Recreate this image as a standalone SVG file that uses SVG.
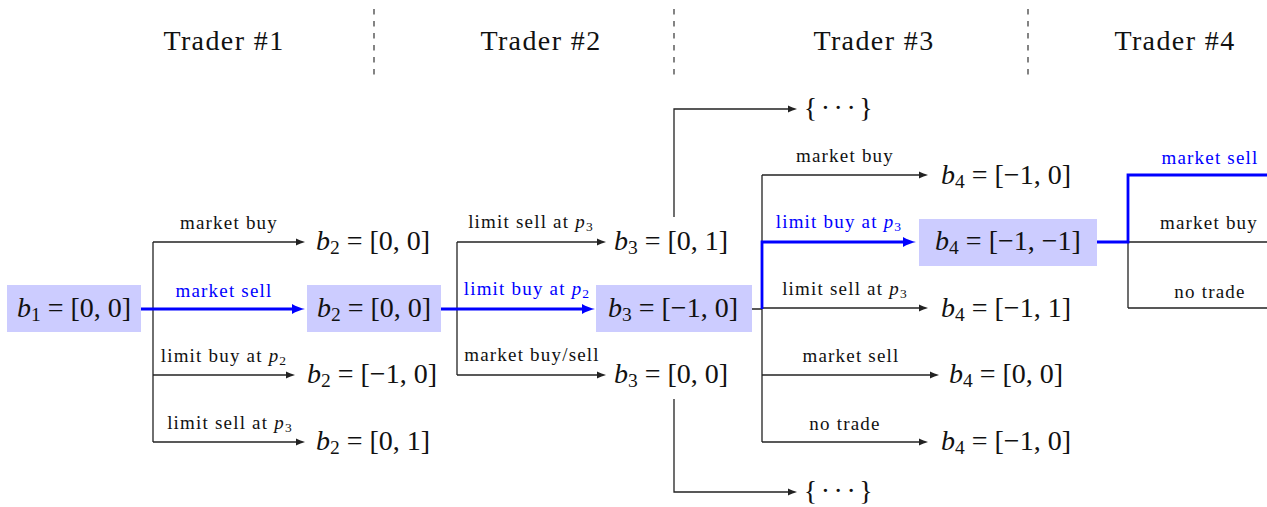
<svg xmlns="http://www.w3.org/2000/svg" width="1267" height="507" viewBox="0 0 1267 507">
  <style>
    text { font-family: "Liberation Serif", "Times New Roman", serif; fill: #111; }
    .title { font-size: 28px; letter-spacing: 1.4px; text-anchor: middle; }
    .math { font-size: 28px; text-anchor: middle; }
    .lbl { font-size: 19px; letter-spacing: 1.2px; text-anchor: middle; }
    .lbl.sel { fill: #0000ff; }
    .i { font-style: italic; }
    .sub { font-size: 19.5px; }
    .lsub { font-size: 13.5px; }
    .hl { fill: #ccccff; }
    .divider { stroke: #333; stroke-width: 1.2; stroke-dasharray: 5.5 6.5; }
    .edge { fill: none; stroke: #222; stroke-width: 1.3; }
    .arrow { marker-end: url(#ah); }
    .path { fill: none; stroke: #0000ff; stroke-width: 2.8; }
    .parrow { marker-end: url(#ahb); }
  </style>
  <defs>
    <marker id="ah" markerUnits="userSpaceOnUse" viewBox="0 0 10 10" markerWidth="10" markerHeight="10" refX="1" refY="5" orient="auto">
      <path d="M9,5 C6.5,4.3 2.5,3 0,1.6 L0,8.4 C2.5,7 6.5,5.7 9,5Z" fill="#222"/>
    </marker>
    <marker id="ahb" markerUnits="userSpaceOnUse" viewBox="0 0 14 12" markerWidth="14" markerHeight="12" refX="1" refY="6" orient="auto">
      <path d="M13,6 C9,5 4,3.4 0,1 L0,11 C4,8.6 9,7 13,6Z" fill="#0000ff"/>
    </marker>
  </defs>

  <!-- column headings and separators -->
  <g id="headers">
    <text class="title" x="224" y="50">Trader #1</text>
    <text class="title" x="541" y="50">Trader #2</text>
    <text class="title" x="874" y="50">Trader #3</text>
    <text class="title" x="1175" y="50">Trader #4</text>
  </g>
  <g id="dividers">
    <line class="divider" x1="374" y1="9" x2="374" y2="75"/>
    <line class="divider" x1="674" y1="9" x2="674" y2="75"/>
    <line class="divider" x1="1028" y1="9" x2="1028" y2="75"/>
  </g>

  <!-- connectors: black tree edges first, highlighted path on top -->
  <g id="connectors">
    <!-- trader 1 -->
    <path class="edge" d="M153,242 V442"/>
    <path class="edge arrow" d="M153,242 H297"/>
    <path class="edge arrow" d="M153,375 H287"/>
    <path class="edge arrow" d="M153,442 H297"/>
    <!-- trader 2 -->
    <path class="edge" d="M457,242 V375"/>
    <path class="edge arrow" d="M457,242 H598"/>
    <path class="edge arrow" d="M457,375 H598"/>
    <path class="edge arrow" d="M674,217 V109 H789"/>
    <path class="edge arrow" d="M674,399 V492 H789"/>
    <!-- trader 3 -->
    <path class="edge" d="M751,309 H762 M762,175 V442"/>
    <path class="edge arrow" d="M762,175 H920"/>
    <path class="edge arrow" d="M762,308 H920"/>
    <path class="edge arrow" d="M762,375 H931"/>
    <path class="edge arrow" d="M762,442 H920"/>
    <!-- trader 4 -->
    <path class="edge" d="M1128,242 V308 M1128,242 H1267 M1128,308 H1267"/>
    <!-- highlighted sequence -->
    <path class="path parrow" d="M141,309 H293"/>
    <path class="path parrow" d="M441,309 H583"/>
    <path class="path parrow" d="M762,309 V242 H904"/>
    <path class="path" d="M1097,242 H1128 V175 H1267"/>
  </g>

  <g id="edge-labels">
    <text class="lbl" x="229" y="229">market buy</text>
    <text class="lbl sel" x="224" y="297">market sell</text>
    <text class="lbl" x="224" y="362">limit buy at <tspan class="i">p</tspan><tspan class="lsub" dy="3">2</tspan></text>
    <text class="lbl" x="230" y="429">limit sell at <tspan class="i">p</tspan><tspan class="lsub" dy="3">3</tspan></text>

    <text class="lbl" x="531" y="228">limit sell at <tspan class="i">p</tspan><tspan class="lsub" dy="3">3</tspan></text>
    <text class="lbl sel" x="527" y="295">limit buy at <tspan class="i">p</tspan><tspan class="lsub" dy="3">2</tspan></text>
    <text class="lbl" x="532" y="361">market buy/sell</text>

    <text class="lbl" x="845" y="162">market buy</text>
    <text class="lbl sel" x="839" y="228">limit buy at <tspan class="i">p</tspan><tspan class="lsub" dy="3">3</tspan></text>
    <text class="lbl" x="845" y="295">limit sell at <tspan class="i">p</tspan><tspan class="lsub" dy="3">3</tspan></text>
    <text class="lbl" x="851" y="362">market sell</text>
    <text class="lbl" x="845" y="430">no trade</text>

    <text class="lbl sel" x="1210" y="164">market sell</text>
    <text class="lbl" x="1209" y="229">market buy</text>
    <text class="lbl" x="1210" y="298">no trade</text>
  </g>

  <!-- state nodes -->
  <g id="b1">
    <rect class="hl" x="7" y="285" width="134" height="47"/>
    <text class="math" x="74" y="317"><tspan class="i">b</tspan><tspan class="sub" dy="4">1</tspan><tspan dy="-4"> = [0, 0]</tspan></text>
  </g>

  <g id="b2-market-buy">
    <text class="math" x="373" y="250"><tspan class="i">b</tspan><tspan class="sub" dy="4">2</tspan><tspan dy="-4"> = [0, 0]</tspan></text>
  </g>
  <g id="b2-market-sell">
    <rect class="hl" x="307" y="285" width="134" height="47"/>
    <text class="math" x="374" y="317"><tspan class="i">b</tspan><tspan class="sub" dy="4">2</tspan><tspan dy="-4"> = [0, 0]</tspan></text>
  </g>
  <g id="b2-limit-buy">
    <text class="math" x="372" y="383"><tspan class="i">b</tspan><tspan class="sub" dy="4">2</tspan><tspan dy="-4"> = [−1, 0]</tspan></text>
  </g>
  <g id="b2-limit-sell">
    <text class="math" x="373" y="450"><tspan class="i">b</tspan><tspan class="sub" dy="4">2</tspan><tspan dy="-4"> = [0, 1]</tspan></text>
  </g>

  <g id="b3-limit-sell">
    <text class="math" x="671" y="250"><tspan class="i">b</tspan><tspan class="sub" dy="4">3</tspan><tspan dy="-4"> = [0, 1]</tspan></text>
  </g>
  <g id="b3-limit-buy">
    <rect class="hl" x="596" y="285" width="156" height="47"/>
    <text class="math" x="673" y="317"><tspan class="i">b</tspan><tspan class="sub" dy="4">3</tspan><tspan dy="-4"> = [−1, 0]</tspan></text>
  </g>
  <g id="b3-market">
    <text class="math" x="671" y="383"><tspan class="i">b</tspan><tspan class="sub" dy="4">3</tspan><tspan dy="-4"> = [0, 0]</tspan></text>
  </g>

  <g id="more-upper">
    <text class="math" x="840" y="117" style="letter-spacing:3.5px">{···}</text>
  </g>
  <g id="more-lower">
    <text class="math" x="840" y="500" style="letter-spacing:3.5px">{···}</text>
  </g>

  <g id="b4-market-buy">
    <text class="math" x="1006" y="184"><tspan class="i">b</tspan><tspan class="sub" dy="4">4</tspan><tspan dy="-4"> = [−1, 0]</tspan></text>
  </g>
  <g id="b4-limit-buy">
    <rect class="hl" x="919" y="219" width="178" height="47"/>
    <text class="math" x="1008" y="250"><tspan class="i">b</tspan><tspan class="sub" dy="4">4</tspan><tspan dy="-4"> = [−1, −1]</tspan></text>
  </g>
  <g id="b4-limit-sell">
    <text class="math" x="1006" y="317"><tspan class="i">b</tspan><tspan class="sub" dy="4">4</tspan><tspan dy="-4"> = [−1, 1]</tspan></text>
  </g>
  <g id="b4-market-sell">
    <text class="math" x="1006" y="383"><tspan class="i">b</tspan><tspan class="sub" dy="4">4</tspan><tspan dy="-4"> = [0, 0]</tspan></text>
  </g>
  <g id="b4-no-trade">
    <text class="math" x="1006" y="450"><tspan class="i">b</tspan><tspan class="sub" dy="4">4</tspan><tspan dy="-4"> = [−1, 0]</tspan></text>
  </g>
</svg>
